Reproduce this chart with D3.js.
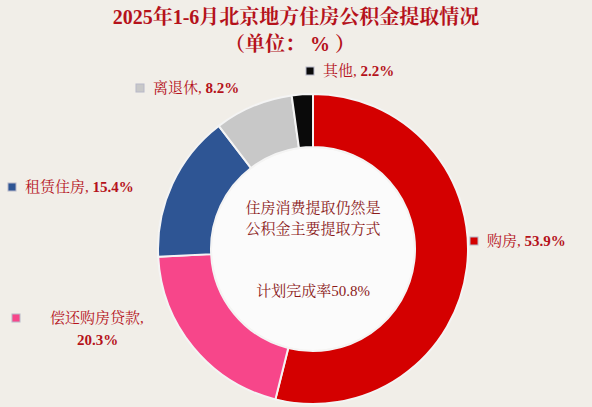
<!DOCTYPE html>
<html><head><meta charset="utf-8">
<script src="https://cdn.jsdelivr.net/npm/d3@7/dist/d3.min.js"></script>
<style>body{margin:0;background:#f1eee8}text{font-family:"Liberation Serif","Noto Serif CJK SC","Noto Sans CJK SC",serif}</style>
</head><body><svg id="c" width="592" height="407"></svg>
<script>
const categories=["购房","偿还购房贷款","租赁住房","离退休","其他"];
const values=[53.9,20.3,15.4,8.2,2.2];
const colors=["#d40000","#f7468a","#2e5594","#c8c8c8","#0a0a0a"];
const labelText=["53.9%","20.3%","15.4%","8.2%","2.2%"];
const svg=d3.select("#c");
svg.append("rect").attr("width",592).attr("height",407).attr("fill","#f1eee8");
const red="#b5121b";
svg.append("text").attr("x",296).attr("y",24).attr("text-anchor","middle").attr("fill",red)
 .attr("font-size",20).attr("font-weight","bold").text("2025年1-6月北京地方住房公积金提取情况");
svg.append("text").attr("x",290).attr("y",51).attr("text-anchor","middle").attr("fill",red)
 .attr("font-size",20).attr("font-weight","bold").text("（单位： % ）");
const cx=313,cy=249,R=155,r=102;
const pie=d3.pie().sort(null).value(d=>d)(values);
const arc=d3.arc().innerRadius(r).outerRadius(R);
const g=svg.append("g").attr("transform",`translate(${cx},${cy})`);
g.selectAll("path").data(pie).join("path").attr("d",arc).attr("fill",(d,i)=>colors[i])
 .attr("stroke","#f4f4f4").attr("stroke-width",2);
g.append("circle").attr("r",r-1).attr("fill","#fbfbfb");
const ct=[["住房消费提取仍然是",-36],["公积金主要提取方式",-15],["计划完成率50.8%",47]];
ct.forEach(t=>g.append("text").attr("y",t[1]).attr("text-anchor","middle").attr("fill","#8b1a1a").attr("font-size",15).text(t[0]));
const labs=[{x:470,y:246},{x:12,y:323},{x:8,y:192},{x:136,y:93},{x:306,y:76}];
labs.forEach((l,i)=>{
 svg.append("rect").attr("x",l.x).attr("y",l.y-9).attr("width",8).attr("height",8).attr("fill",colors[i]).attr("stroke","#b8b8c8");
 if(i===1){
  svg.append("text").attr("x",50).attr("y",l.y).attr("fill",red).attr("font-size",15).text(categories[1]+",");
  svg.append("text").attr("x",77).attr("y",l.y+22).attr("fill",red).attr("font-size",15).attr("font-weight","bold").text(labelText[1]);
 } else {
  const t=svg.append("text").attr("x",l.x+17).attr("y",l.y).attr("fill",red).attr("font-size",15);
  t.append("tspan").text(categories[i]+", ");
  t.append("tspan").attr("font-weight","bold").text(labelText[i]);
 }
});
</script></body></html>
